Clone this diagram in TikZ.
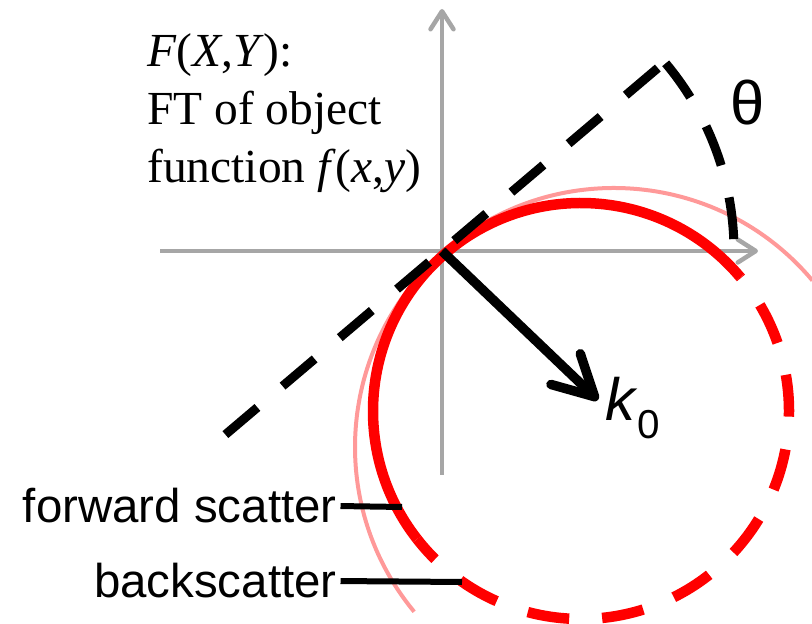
\documentclass[tikz,border=0pt]{standalone}
\usepackage{fontspec}
\setmainfont{Liberation Serif}
\setsansfont{Liberation Sans}
\usetikzlibrary{arrows.meta}

\definecolor{axisgray}{RGB}{166,166,166}
\definecolor{lightred}{RGB}{255,153,153}

\begin{document}
\begin{tikzpicture}[
  x=0.02cm, y=0.02cm,
  axis_line/.style={draw=axisgray, line width=0.09cm, -{Straight Barb[length=0.36cm, width=0.46cm, round]}},
  k_arrow/.style={draw=black, line width=0.19cm, -{Straight Barb[length=0.8cm, width=0.85cm, round]}},
  dash_line/.style={draw=black, line width=0.18cm, dash pattern=on 0.84cm off 0.66cm},
  red_solid/.style={draw=red, line width=0.21cm},
  red_dashed/.style={draw=red, line width=0.21cm, dash pattern=on 0.84cm off 0.66cm, dash phase=0.3cm},
  pink_line/.style={draw=lightred, line width=0.08cm},
  leader/.style={draw=black, line width=0.12cm},
  side_label/.style={font=\sffamily\fontsize{27}{32}\selectfont, inner sep=0pt}
]
\useasboundingbox (0,0) rectangle (812,-624);

% Axes
\coordinate (origin) at (442,-251);
\coordinate (x_start) at (160,-251);
\coordinate (x_end) at (758,-251);
\coordinate (y_start) at (442,-475);
\coordinate (y_end) at (442,-9);
\draw[axis_line] (x_start) -- (x_end);
\draw[axis_line] (y_start) -- (y_end);

% Ewald circles
\coordinate (c_pink) at (614,-447);
\coordinate (c_red) at (581,-411);
\draw[pink_line] (c_pink) ++(40:259) arc[start angle=40, end angle=219.5, radius=259];
\draw[red_solid] (c_red) ++(40:208) arc[start angle=40, end angle=218, radius=208];
\draw[red_dashed] (c_red) ++(218:208) arc[start angle=218, end angle=400, radius=208];

% Dashed line and angle
\coordinate (d_start) at (225.4,-434.6);
\coordinate (apex) at (658.6,-67.4);
\draw[dash_line] (d_start) -- (apex);
\draw[dash_line] (origin) ++(40:292) arc[start angle=40, end angle=1.5, radius=292];
\node[font=\sffamily\fontsize{35}{40}\selectfont, inner sep=0pt] (theta) at (748,-103) {θ};

% Wave vector
\coordinate (k_tip) at (598,-400);
\draw[k_arrow] (origin) -- (k_tip);
\node[anchor=base west, inner sep=0pt] (k_label) at (605,-421)
  {\sffamily\fontsize{34}{40}\selectfont\textit{k}\raisebox{-10pt}{\fontsize{23}{26}\selectfont 0}};

% Text
\node[anchor=north west, align=left, inner sep=0pt, font=\fontsize{27}{33}\selectfont] (ft_text) at (147,-33)
  {\textit{F}(\textit{X},\textit{Y}):\\FT of object\\function \textit{f}(\textit{x},\textit{y})};

% Labels
\node[side_label, anchor=base east] (fwd_label) at (337,-523) {forward scatter};
\node[side_label, anchor=base east] (back_label) at (337,-598) {backscatter};
\coordinate (fwd_end) at (402,-507);
\coordinate (back_end) at (462,-582);
\draw[leader] ([xshift=2pt]fwd_label.east) -- (fwd_end);
\draw[leader] ([xshift=2pt]back_label.east) -- (back_end);

\end{tikzpicture}
\end{document}
